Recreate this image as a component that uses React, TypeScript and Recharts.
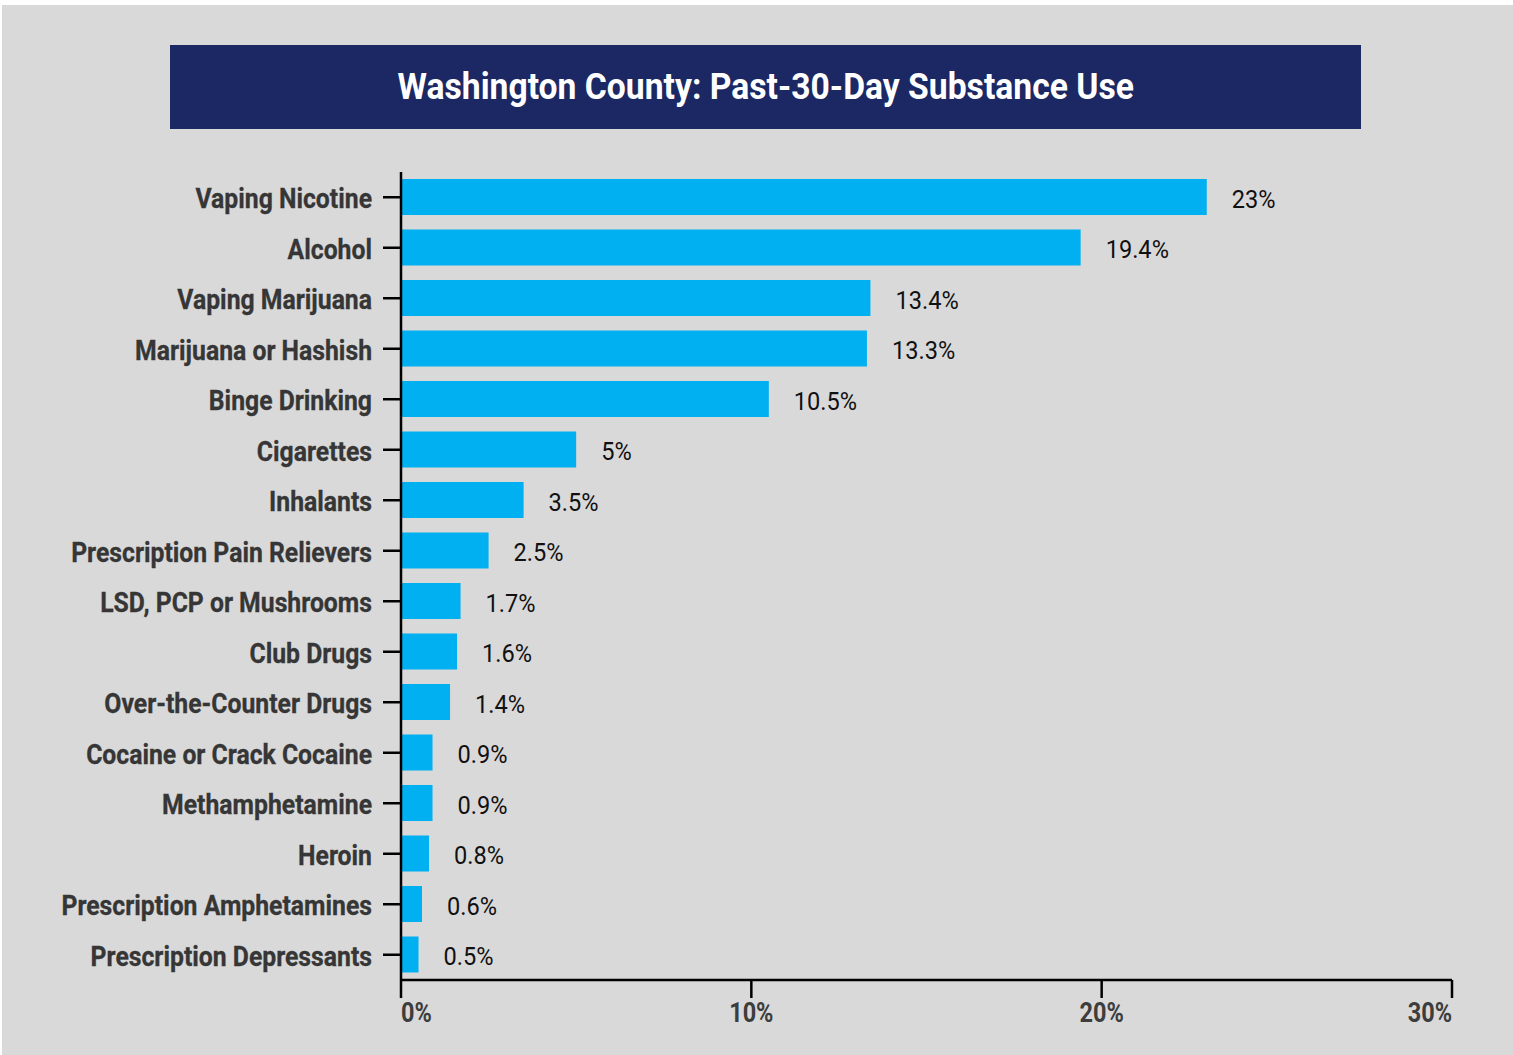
import React from 'react';
import { BarChart, Bar, XAxis, YAxis, LabelList } from 'recharts';

const substances = [
  'Vaping Nicotine',
  'Alcohol',
  'Vaping Marijuana',
  'Marijuana or Hashish',
  'Binge Drinking',
  'Cigarettes',
  'Inhalants',
  'Prescription Pain Relievers',
  'LSD, PCP or Mushrooms',
  'Club Drugs',
  'Over-the-Counter Drugs',
  'Cocaine or Crack Cocaine',
  'Methamphetamine',
  'Heroin',
  'Prescription Amphetamines',
  'Prescription Depressants',
];
const percentUse = [23, 19.4, 13.4, 13.3, 10.5, 5, 3.5, 2.5, 1.7, 1.6, 1.4, 0.9, 0.9, 0.8, 0.6, 0.5];
const xTicks = [0, 10, 20, 30];

const data = substances.map((name, i) => ({ name, value: percentUse[i] }));

const FONT = 'Roboto, "Noto Sans", sans-serif';
const SQUEEZE = 0.87;

const CategoryTick = (props: any) => {
  const { x, y, payload } = props;
  return (
    <g transform={`translate(${x},${y + 1}) scale(0.9,1)`}>
      <text x={0} y={0} dy="0.36em" textAnchor="end" fill="#363636" fontFamily={FONT} fontWeight={700} fontSize={27.5} stroke="#363636" strokeWidth={0.3}>
        {payload.value}
      </text>
    </g>
  );
};

const PercentTick = (props: any) => {
  const { x, y, payload } = props;
  const v = payload.value;
  const anchor = v === xTicks[0] ? 'start' : v === xTicks[xTicks.length - 1] ? 'end' : 'middle';
  return (
    <g transform={`translate(${x},${y}) scale(${SQUEEZE},1)`}>
      <text x={0} y={0} dy="0.71em" textAnchor={anchor} fill="#3d3d3d" fontFamily={FONT} fontWeight={700} fontSize={27}>
        {v}%
      </text>
    </g>
  );
};

const ValueLabel = (props: any) => {
  const { x, y, width, height, value } = props;
  const lx = x + width + 25;
  const ly = y + height / 2 + 1;
  return (
    <g transform={`translate(${lx},${ly}) scale(0.89,1)`}>
      <text x={0} y={0} dy="0.36em" textAnchor="start" fill="#111" fontFamily={FONT} fontSize={26.5}>
        {value}%
      </text>
    </g>
  );
};

export default function App() {
  return (
    <div style={{ position: 'absolute', left: 0, top: 0, width: 1513, height: 1055, background: '#ffffff' }}>
      <div style={{ position: 'absolute', left: 2, top: 5, width: 1511, height: 1050, background: '#d9d9d9' }} />
      <div
        style={{
          position: 'absolute',
          left: 170,
          top: 45,
          width: 1191,
          height: 84,
          background: '#1c2864',
          display: 'flex',
          alignItems: 'center',
          justifyContent: 'center',
        }}
      >
        <span
          style={{
            display: 'inline-block',
            color: '#ffffff',
            fontFamily: FONT,
            fontWeight: 700,
            fontSize: 36,
            transform: 'scale(0.935,1)',
            whiteSpace: 'nowrap',
            marginTop: 0,
          }}
        >
          Washington County: Past-30-Day Substance Use
        </span>
      </div>
      <div style={{ position: 'absolute', left: 0, top: 0 }}>
        <BarChart
          width={1513}
          height={1055}
          data={data}
          layout="vertical"
          margin={{ top: 172, right: 61, bottom: 25, left: 0 }}
          barCategoryGap={0}
        >
          <XAxis
            type="number"
            domain={[0, 30]}
            ticks={xTicks}
            height={50}
            tickSize={18}
            tickMargin={5}
            axisLine={{ stroke: '#000', strokeWidth: 2.5 }}
            tickLine={{ stroke: '#000', strokeWidth: 2.5 }}
            tick={<PercentTick />}
            interval={0}
          />
          <YAxis
            type="category"
            dataKey="name"
            width={401}
            tickSize={18}
            tickMargin={11}
            axisLine={{ stroke: '#000', strokeWidth: 2.5 }}
            tickLine={{ stroke: '#000', strokeWidth: 2.5 }}
            tick={<CategoryTick />}
            interval={0}
          />
          <Bar dataKey="value" fill="#00b0f0" barSize={36} isAnimationActive={false}>
            <LabelList dataKey="value" content={<ValueLabel />} />
          </Bar>
        </BarChart>
      </div>
    </div>
  );
}
